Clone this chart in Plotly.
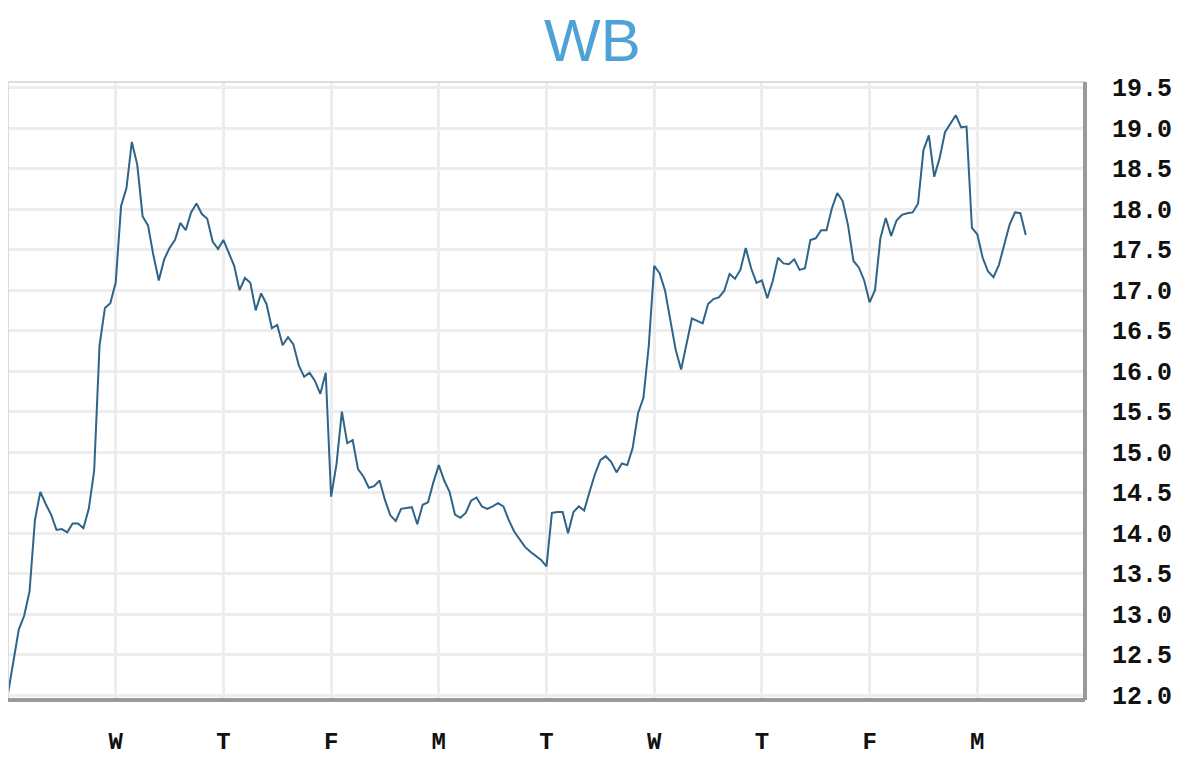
import plotly.graph_objects as go

# intraday price samples, 20 per trading day, starting Tuesday open
points_per_day = 20
price = [
    12.02, 12.40, 12.81, 12.98, 13.28, 14.16, 14.51, 14.36, 14.23, 14.04,
    14.05, 14.01, 14.12, 14.12, 14.06, 14.30, 14.77, 16.32, 16.78, 16.84,
    17.09, 18.04, 18.26, 18.83, 18.55, 17.91, 17.80, 17.43, 17.12, 17.38,
    17.52, 17.62, 17.83, 17.74, 17.96, 18.07, 17.94, 17.88, 17.60, 17.51,
    17.62, 17.46, 17.30, 17.00, 17.15, 17.09, 16.75, 16.96, 16.83, 16.53,
    16.57, 16.32, 16.42, 16.33, 16.07, 15.93, 15.98, 15.88, 15.72, 15.98,
    14.45, 14.85, 15.50, 15.11, 15.15, 14.79, 14.70, 14.56, 14.58, 14.65,
    14.41, 14.22, 14.15, 14.30, 14.31, 14.32, 14.11, 14.35, 14.38, 14.63,
    14.84, 14.65, 14.51, 14.23, 14.19, 14.25, 14.40, 14.44, 14.33, 14.30,
    14.33, 14.37, 14.33, 14.16, 14.02, 13.93, 13.83, 13.77, 13.72, 13.67,
    13.59, 14.25, 14.26, 14.26, 14.00, 14.26, 14.33, 14.28, 14.51, 14.73,
    14.90, 14.95, 14.88, 14.75, 14.86, 14.84, 15.05, 15.48, 15.67, 16.32,
    17.30, 17.21, 17.00, 16.63, 16.26, 16.02, 16.35, 16.65, 16.62, 16.59,
    16.83, 16.89, 16.91, 16.99, 17.20, 17.14, 17.25, 17.52, 17.27, 17.09,
    17.12, 16.90, 17.11, 17.40, 17.33, 17.32, 17.38, 17.25, 17.27, 17.62,
    17.64, 17.74, 17.74, 18.01, 18.20, 18.10, 17.80, 17.36, 17.28, 17.12,
    16.85, 17.00, 17.64, 17.89, 17.67, 17.86, 17.93, 17.95, 17.96, 18.07,
    18.73, 18.91, 18.40, 18.63, 18.95, 19.06, 19.16, 19.01, 19.02, 17.77,
    17.69, 17.40, 17.23, 17.16, 17.31, 17.56, 17.81, 17.96, 17.95, 17.68,
]
day_labels = ["W", "T", "F", "M", "T", "W", "T", "F", "M"]
day_ticks = [1, 2, 3, 4, 5, 6, 7, 8, 9]
y_ticks = [12.0, 12.5, 13.0, 13.5, 14.0, 14.5, 15.0, 15.5, 16.0, 16.5,
           17.0, 17.5, 18.0, 18.5, 19.0, 19.5]

t = [i / points_per_day for i in range(len(price))]

fig = go.Figure()
fig.add_trace(go.Scatter(
    x=t, y=price,
    mode="lines",
    line=dict(color="#2f6489", width=2),
    hoverinfo="skip",
    showlegend=False,
))

# frame: light top/left, darker "shadow" bottom/right
fig.add_shape(type="line", xref="paper", yref="paper", x0=0, x1=1, y0=1, y1=1,
              line=dict(color="#dcdcdc", width=2))
fig.add_shape(type="line", xref="paper", yref="paper", x0=0, x1=0, y0=0, y1=1,
              line=dict(color="#dcdcdc", width=2))
fig.add_shape(type="line", xref="paper", yref="paper", x0=0, x1=1, y0=0, y1=0,
              line=dict(color="#9a9a9a", width=4))
fig.add_shape(type="line", xref="paper", yref="paper", x0=1, x1=1, y0=0, y1=1,
              line=dict(color="#9a9a9a", width=4))

fig.update_layout(
    width=1200, height=771,
    margin=dict(l=0, r=123, t=74, b=79),
    paper_bgcolor="white",
    plot_bgcolor="white",
    title=dict(
        text="WB",
        x=0.487, xanchor="center",
        y=0.958, yanchor="middle",
        font=dict(family="Liberation Sans, Arial", size=60, color="#4ea2d6"),
    ),
    xaxis=dict(
        range=[0, 10],
        tickvals=day_ticks,
        ticktext=day_labels,
        showgrid=True, gridcolor="#ededed", gridwidth=3,
        zeroline=False, showline=False,
        ticks="", ticklabelstandoff=24,
        tickfont=dict(family="Liberation Mono", size=24, color="#111", weight="bold"),
    ),
    yaxis=dict(
        range=[11.94, 19.57],
        side="right",
        tickvals=y_ticks,
        ticktext=[f"{v:.1f}" for v in y_ticks],
        showgrid=True, gridcolor="#ededed", gridwidth=3,
        zeroline=False, showline=False,
        ticks="", ticklabelstandoff=26,
        tickfont=dict(family="Liberation Mono", size=25, color="#111", weight="bold"),
    ),
)

fig.write_html("out.html")
